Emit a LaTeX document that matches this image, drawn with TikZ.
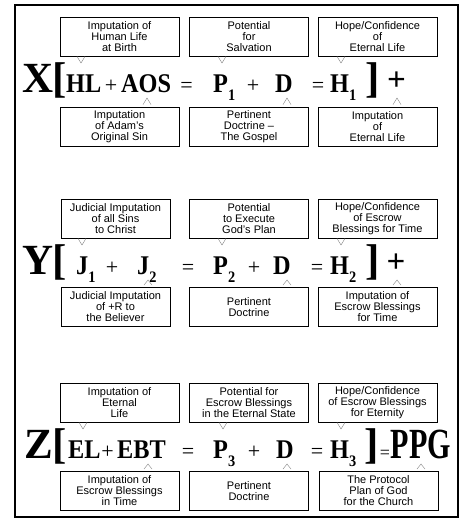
\documentclass[tikz,border=0pt]{standalone}
\usepackage{fontspec}
\setmainfont{Liberation Sans}
\newfontfamily\eqfont[FakeStretch=0.9]{Liberation Serif}
\newfontfamily\ppgfont[FakeStretch=0.7]{Liberation Serif}
\newfontfamily\bigfont{Liberation Serif}
\usetikzlibrary{calc}

\tikzset{
  note/.style={draw=black, line width=0.9pt, minimum width=119pt, minimum height=39pt,
    inner sep=0pt, align=center, font=\fontsize{11}{11}\selectfont},
  big/.style={anchor=base, inner sep=0pt, font=\bigfont\bfseries\fontsize{43}{43}\selectfont},
  term/.style={anchor=base west, inner sep=0pt, font=\eqfont\bfseries\fontsize{27}{27}\selectfont},
  op/.style={anchor=base, inner sep=0pt, font=\bigfont\fontsize{22}{22}\selectfont},
  bigop/.style={anchor=base, inner sep=0pt, font=\bigfont\bfseries\fontsize{33}{33}\selectfont},
  ptr/.style={draw=gray, line width=0.4pt}
}
\newcommand{\sub}[1]{\raisebox{-0.3em}{\fontsize{16}{16}\selectfont #1}}
\newcommand{\dnptr}[2]{\draw[ptr] ($(#2 |- #1.south)+(-4,0)$) -- (#2) -- ($(#2 |- #1.south)+(4,0)$);}
\newcommand{\upptr}[2]{\draw[ptr] ($(#2 |- #1.north)+(-4,-2)$) -- (#2) -- ($(#2 |- #1.north)+(4,-2)$);}

\begin{document}
\begin{tikzpicture}[x=1pt, y=-1pt]
\useasboundingbox (0,0) rectangle (462,520);
\draw[line width=1.8pt] (15,5) rectangle (458,517);

% first equation
\node[note] (xt1) at (119.5,36.5) {Imputation of\\Human Life\\at Birth};
\node[note] (xt2) at (249,36.5) {Potential\\for\\Salvation};
\node[note] (xt3) at (377.5,36.5) {Hope/Confidence\\of\\Eternal Life};
\node[note] (xb1) at (119.5,126.5) {Imputation\\of Adam's\\Original Sin};
\node[note] (xb2) at (249,126.5) {Pertinent\\Doctrine --\\The Gospel};
\node[note] (xb3) at (377.5,126.5) {Imputation\\of\\Eternal Life};

\node[big] (x) at (38,92) {X};
\node[big] (xl) at (59.5,92) {[};
\node[term] (hl) at (66,92) {HL};
\node[op] (xp1) at (111,92) {+};
\node[term] (aos) at (121,92) {AOS};
\node[op] (xe1) at (186.5,92) {=};
\node[term] (p1) at (213,92) {P\sub{1}};
\node[op] (xp2) at (253,92) {+};
\node[term] (xd) at (275,92) {D};
\node[op] (xe2) at (318,92) {=};
\node[term] (h1) at (330,92) {H\sub{1}};
\node[big] (xr) at (372.5,92) {]};
\node[bigop] (xplus) at (396.5,90) {+};

\coordinate (xa1) at (81,63);
\coordinate (xa2) at (222,63);
\coordinate (xa3) at (341,63);
\coordinate (xa4) at (147,98);
\coordinate (xa5) at (287,98);
\coordinate (xa6) at (397,98);
\dnptr{xt1}{xa1}
\dnptr{xt2}{xa2}
\dnptr{xt3}{xa3}
\upptr{xb1}{xa4}
\upptr{xb2}{xa5}
\upptr{xb3}{xa6}

% second equation
\node[note, minimum width=109pt] (yt1) at (115.5,218.5) {Judicial Imputation\\of all Sins\\to Christ};
\node[note] (yt2) at (249,218.5) {Potential\\to Execute\\God's Plan};
\node[note] (yt3) at (377.5,218.5) {Hope/Confidence\\of Escrow\\Blessings for Time};
\node[note, minimum width=109pt] (yb1) at (115.5,307) {Judicial Imputation\\of +R to\\the Believer};
\node[note] (yb2) at (249,307) {Pertinent\\Doctrine};
\node[note] (yb3) at (377.5,307) {Imputation of\\Escrow Blessings\\for Time};

\node[big] (y) at (38.5,274) {Y};
\node[big] (yl) at (59.5,274) {[};
\node[term] (j1) at (76,274) {J\sub{1}};
\node[op] (yp1) at (112,274) {+};
\node[term] (j2) at (137,274) {J\sub{2}};
\node[op] (ye1) at (188,274) {=};
\node[term] (p2) at (213,274) {P\sub{2}};
\node[op] (yp2) at (254,274) {+};
\node[term] (yd) at (273,274) {D};
\node[op] (ye2) at (317,274) {=};
\node[term] (h2) at (330,274) {H\sub{2}};
\node[big] (yr) at (372.5,274) {]};
\node[bigop] (yplus) at (396,272) {+};

\coordinate (ya1) at (82,245);
\coordinate (ya2) at (222,245);
\coordinate (ya3) at (341,245);
\coordinate (ya4) at (148,280);
\coordinate (ya5) at (287,280);
\coordinate (ya6) at (397,280);
\dnptr{yt1}{ya1}
\dnptr{yt2}{ya2}
\dnptr{yt3}{ya3}
\upptr{yb1}{ya4}
\upptr{yb2}{ya5}
\upptr{yb3}{ya6}

% third equation
\node[note] (zt1) at (119.5,402.5) {Imputation of\\Eternal\\Life};
\node[note] (zt2) at (249,402.5) {Potential for\\Escrow Blessings\\in the Eternal State};
\node[note] (zt3) at (377.5,402.5) {Hope/Confidence\\of Escrow Blessings\\for Eternity};
\node[note] (zb1) at (119.5,491) {Imputation of\\Escrow Blessings\\in Time};
\node[note] (zb2) at (249,491) {Pertinent\\Doctrine};
\node[note] (zb3) at (378.5,491) {The Protocol\\Plan of God\\for the Church};

\node[big] (z) at (38.5,458) {Z};
\node[big] (zl) at (59.5,458) {[};
\node[term] (el) at (68,458) {EL};
\node[op] (zp1) at (107.5,458) {+};
\node[term] (ebt) at (117,458) {EBT};
\node[op] (ze1) at (188,458) {=};
\node[term] (p3) at (213,458) {P\sub{3}};
\node[op] (zp2) at (254,458) {+};
\node[term] (zd) at (276,458) {D};
\node[op] (ze2) at (317,458) {=};
\node[term] (h3) at (330,458) {H\sub{3}};
\node[big] (zr) at (371.5,458) {]};
\node[op, font=\bigfont\fontsize{18}{18}\selectfont] (ze3) at (385,458) {=};
\node[big, font=\ppgfont\bfseries\fontsize{43}{43}\selectfont] (ppg) at (421,458) {PPG};

\coordinate (za1) at (83,429);
\coordinate (za2) at (223,429);
\coordinate (za3) at (341,429);
\coordinate (za4) at (148,464);
\coordinate (za5) at (287,464);
\coordinate (za6) at (421,464);
\dnptr{zt1}{za1}
\dnptr{zt2}{za2}
\dnptr{zt3}{za3}
\upptr{zb1}{za4}
\upptr{zb2}{za5}
\upptr{zb3}{za6}
\end{tikzpicture}
\end{document}
